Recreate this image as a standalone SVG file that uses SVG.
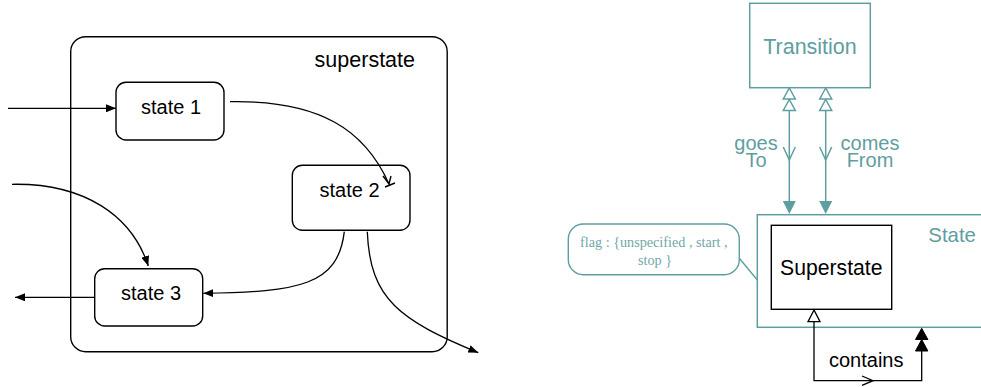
<svg xmlns="http://www.w3.org/2000/svg" width="981" height="387" viewBox="0 0 981 387">
<defs>
<style>
.box{fill:#fff;stroke:#000;stroke-width:1.4}
.lbl{font-family:"Liberation Sans",Arial,sans-serif;font-size:20px;fill:#000}
.tl{font-family:"Liberation Sans",Arial,sans-serif;font-size:20px;fill:#5f9ea0}
.conn{fill:none;stroke:#000;stroke-width:1.3}
.tconn{fill:none;stroke:#5f9ea0;stroke-width:1.5}
.tbox{fill:#fff;stroke:#5f9ea0;stroke-width:1.5}
</style>
<marker id="arr" markerUnits="userSpaceOnUse" viewBox="0 0 10 8" refX="10" refY="4" markerWidth="10" markerHeight="8" orient="auto">
<path d="M0,0 L10,4 L0,8 z" fill="#000"/>
</marker>
</defs>
<rect width="981" height="387" fill="#fff"/>

<g id="superstate">
<rect class="box" x="70.7" y="36.7" width="376.5" height="315" rx="15"/>
<text class="lbl" x="415" y="66.7" text-anchor="end" style="font-size:21.5px">superstate</text>
</g>
<g id="state1">
<rect class="box" x="116" y="82.3" width="108" height="57.7" rx="10"/>
<text class="lbl" x="171" y="114.3" text-anchor="middle">state 1</text>
</g>
<g id="state2">
<rect class="box" x="292.3" y="165.3" width="117.7" height="65" rx="10"/>
<text class="lbl" x="349.5" y="196.7" text-anchor="middle">state 2</text>
</g>
<g id="state3">
<rect class="box" x="94.7" y="268.7" width="108" height="57.3" rx="10"/>
<text class="lbl" x="151" y="300" text-anchor="middle">state 3</text>
</g>

<g id="left-connectors">
<path class="conn" d="M8,108.3 L116,108.3" marker-end="url(#arr)"/>
<path class="conn" d="M230,101.7 C320,100 365,130 389,184"/>
<path d="M383,176 L389,184 L391,176 M385,187 L395,183" fill="none" stroke="#000" stroke-width="1.4"/>
<path class="conn" d="M12,184.3 C85,183 132,216 148.3,266" marker-end="url(#arr)"/>
<path class="conn" d="M344.3,231.7 C338,285 300,292 203.3,293.3" marker-end="url(#arr)"/>
<path class="conn" d="M94.7,297.3 L15,297.3" marker-end="url(#arr)"/>
<path class="conn" d="M367.3,231.7 C370,300 400,320 478.3,352.7" marker-end="url(#arr)"/>
</g>

<g id="transition">
<rect class="tbox" x="749.7" y="3.3" width="120.6" height="84.4"/>
<text class="tl" x="810" y="54.3" text-anchor="middle" style="font-size:21.5px">Transition</text>
</g>
<g id="state">
<rect class="tbox" x="757.3" y="214.7" width="240" height="112.6"/>
<text class="tl" x="928.3" y="242" style="font-size:20.4px">State</text>
</g>
<g id="superstate-class">
<rect class="box" x="771.3" y="225.3" width="120.4" height="84"/>
<text class="lbl" x="831.3" y="275" text-anchor="middle" style="font-size:21.2px">Superstate</text>
</g>
<g id="note">
<rect x="568.3" y="224" width="171" height="50.7" rx="15" fill="#fff" stroke="#5f9ea0" stroke-width="1.4"/>
<text x="653.8" y="246.7" text-anchor="middle" font-family="'Liberation Serif','Times New Roman',serif" font-size="14.2" fill="#6fa8a8">flag : {unspecified , start ,</text>
<text x="655" y="265" text-anchor="middle" font-family="'Liberation Serif','Times New Roman',serif" font-size="14.2" fill="#6fa8a8">stop }</text>
</g>

<g id="right-connectors">
<line x1="739.3" y1="258.3" x2="757.3" y2="280" stroke="#5f9ea0" stroke-width="1.4"/>
<!-- goesTo -->
<path class="tconn" d="M789.3,110.5 L789.3,201"/>
<path class="tconn" d="M789.3,88 L783.3,99 L795.3,99 Z M789.3,99.5 L783.3,110.5 L795.3,110.5 Z" fill="#fff"/>
<path class="tconn" d="M783.3,147 L789.3,160 L795.3,147"/>
<path d="M782.8,201 L795.8,201 L789.3,214 Z" fill="#5f9ea0"/>
<text class="tl" x="756" y="149.5" text-anchor="middle">goes</text>
<text class="tl" x="756" y="166.5" text-anchor="middle">To</text>
<!-- comesFrom -->
<path class="tconn" d="M825.7,110.5 L825.7,201"/>
<path class="tconn" d="M825.7,88 L819.7,99 L831.7,99 Z M825.7,99.5 L819.7,110.5 L831.7,110.5 Z" fill="#fff"/>
<path class="tconn" d="M819.7,147 L825.7,160 L831.7,147"/>
<path d="M819.2,201 L832.2,201 L825.7,214 Z" fill="#5f9ea0"/>
<text class="tl" x="870" y="149.5" text-anchor="middle">comes</text>
<text class="tl" x="870" y="166.5" text-anchor="middle">From</text>
<!-- contains -->
<path class="conn" d="M814,321.7 L814,380.7 L921.7,380.7 L921.7,351"/>
<path d="M814,310 L808,321.7 L820,321.7 Z" fill="#fff" stroke="#000" stroke-width="1.3"/>
<path d="M862,376 L873,380.7 L862,385.4" fill="none" stroke="#000" stroke-width="1.3"/>
<path d="M921.7,328.3 L915.5,339.5 L927.9,339.5 Z M921.7,339.5 L915.5,351 L927.9,351 Z" fill="#000" stroke="#000" stroke-width="1"/>
<text class="lbl" x="829" y="366.7">contains</text>
</g>
</svg>
